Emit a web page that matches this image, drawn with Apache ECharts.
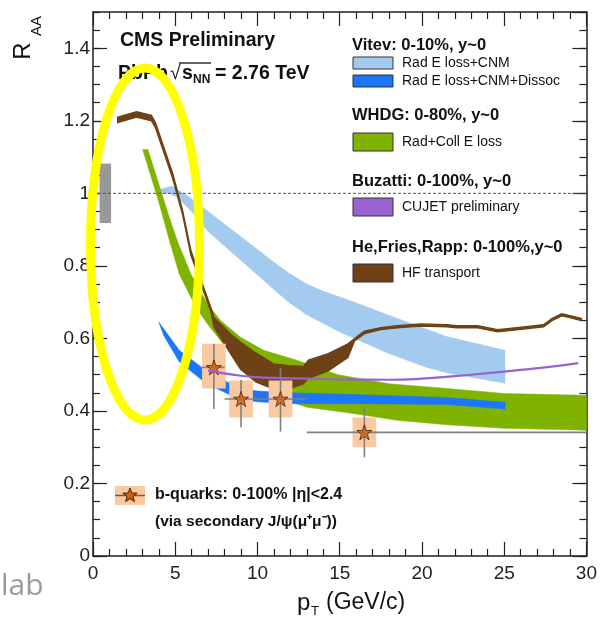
<!DOCTYPE html>
<html>
<head>
<meta charset="utf-8">
<script src="https://cdn.jsdelivr.net/npm/echarts@6.0.0/dist/echarts.min.js"></script>
<style>
html,body{margin:0;padding:0;background:#fff}
#main{width:600px;height:630px}
</style>
</head>
<body>
<div id="main"></div>
<script>
var chart = echarts.init(document.getElementById('main'));
var FONT = '"Liberation Sans", Arial, Helvetica, sans-serif';

// Vitev: Rad E loss+CNM (light blue band)
var vCnmHiX = [4.0, 4.8, 5.85, 7.0, 8.0, 9.0, 10.0, 11.0, 11.9, 13, 14, 15.9, 18.5, 21.5, 25.05];
var vCnmHiY = [1.01, 1.02, 0.99, 0.95, 0.915, 0.88, 0.845, 0.81, 0.78, 0.75, 0.73, 0.70, 0.655, 0.605, 0.567];
var vCnmLoX = [4.0, 4.6, 5.1, 6.0, 7.0, 8.0, 9.0, 10.0, 11.0, 11.9, 13, 14.9, 17.9, 20.3, 21.5, 25.05];
var vCnmLoY = [1.0, 1.0, 0.99, 0.95, 0.895, 0.855, 0.815, 0.775, 0.735, 0.70, 0.665, 0.62, 0.56, 0.52, 0.505, 0.476];

// Vitev: Rad E loss+CNM+Dissoc (blue band)
var vDisHiX = [4.0, 5.25, 6.9, 8.9, 10, 12, 16, 21.5, 25.05];
var vDisHiY = [0.645, 0.567, 0.51, 0.462, 0.455, 0.45, 0.445, 0.437, 0.424];
var vDisLoX = [4.3, 5.25, 6.9, 8.9, 10, 12, 16, 21.5, 25.05];
var vDisLoY = [0.608, 0.535, 0.475, 0.432, 0.425, 0.42, 0.42, 0.418, 0.405];

// WHDG: Rad+Coll E loss (green band)
var whdgHiX = [3.34, 4.0, 4.65, 5.15, 5.96, 6.96, 7.77, 8.97, 10.38, 12.4, 14.9, 18, 21.5, 25, 30];
var whdgHiY = [1.121, 1.026, 0.932, 0.866, 0.777, 0.695, 0.649, 0.603, 0.567, 0.54, 0.50, 0.475, 0.462, 0.448, 0.443];
var whdgLoX = [3.02, 4.0, 4.65, 5.25, 6.26, 6.96, 8, 9, 10, 11, 12, 13, 15.5, 18.5, 21.5, 25, 30];
var whdgLoY = [1.121, 0.976, 0.869, 0.777, 0.686, 0.64, 0.58, 0.53, 0.49, 0.455, 0.425, 0.41, 0.395, 0.374, 0.362, 0.352, 0.347];

// Buzatti: CUJET preliminary (purple line)
var cujetX = [7.0, 9, 11, 13, 15, 18, 20, 22, 24, 26, 28, 29.5];
var cujetY = [0.512, 0.497, 0.491, 0.489, 0.487, 0.486, 0.489, 0.496, 0.504, 0.513, 0.523, 0.532];

// He, Fries, Rapp: HF transport (brown band)
var hfX  = [1.5, 2.65, 3.55, 3.8, 4.25, 4.85, 5.45, 5.95, 6.6, 7.16, 7.36, 8.37, 8.97, 9.9, 10.98, 11.9, 12.8, 13.1, 14.3, 15.5, 15.9, 16.5, 17.5, 18.5, 19.9, 21.5, 22.1, 23.4, 24.6, 25.9, 27.4, 27.9, 28.5, 29.0, 29.7];
var hfHi = [1.21, 1.225, 1.215, 1.195, 1.135, 1.055, 0.952, 0.843, 0.757, 0.686, 0.658, 0.612, 0.59, 0.56, 0.53, 0.525, 0.523, 0.54, 0.558, 0.585, 0.60, 0.62, 0.63, 0.635, 0.64, 0.638, 0.635, 0.635, 0.624, 0.63, 0.638, 0.655, 0.668, 0.663, 0.655];
var hfLo = [1.195, 1.21, 1.20, 1.18, 1.12, 1.04, 0.94, 0.83, 0.745, 0.675, 0.631, 0.557, 0.515, 0.48, 0.46, 0.46, 0.475, 0.49, 0.51, 0.547, 0.593, 0.613, 0.624, 0.629, 0.634, 0.632, 0.629, 0.629, 0.618, 0.624, 0.632, 0.649, 0.662, 0.657, 0.649];

// b-quarks (CMS data)
var bX      = [7.35, 9.0, 11.4, 16.5];
var bY      = [0.52, 0.433, 0.433, 0.341];
var bStatLo = [0.405, 0.355, 0.343, 0.272];
var bStatHi = [0.585, 0.485, 0.518, 0.41];
var bSysLo  = [0.462, 0.382, 0.382, 0.300];
var bSysHi  = [0.585, 0.484, 0.484, 0.382];
var bBinLo  = [6.5, 8, 10, 13];
var bBinHi  = [8, 10, 13, 30];

// global uncertainty box at R_AA = 1
var globX = [0.4, 1.1];
var globY = [0.918, 1.082];

var unityX = [0, 30];
var unityY = [1, 1];

var STAR = 'path://M0,-10L2.35,-3.24L9.51,-3.09L3.8,1.24L5.88,8.09L0,4L-5.88,8.09L-3.8,1.24L-9.51,-3.09L-2.35,-3.24Z';

function band(hx, hy, lx, ly, color, lw) {
    return {
        type: 'custom', silent: true,
        data: [[hx[0], hy[0]]],
        renderItem: function (params, api) {
            var pts = [];
            for (var i = 0; i < hx.length; i++) pts.push(api.coord([hx[i], hy[i]]));
            for (var j = lx.length - 1; j >= 0; j--) pts.push(api.coord([lx[j], ly[j]]));
            return {
                type: 'polygon',
                shape: { points: pts },
                style: { fill: color, stroke: color, lineWidth: lw }
            };
        }
    };
}

function xAx(pos, labels) {
    return {
        type: 'value', position: pos, min: 0, max: 30, interval: 5,
        axisLine: { show: true, onZero: false, lineStyle: { color: '#222', width: 1.5 } },
        axisTick: { inside: true, length: 14, lineStyle: { color: '#222', width: 1.2 } },
        minorTick: { show: true, splitNumber: 5, length: 7, lineStyle: { color: '#222', width: 1.2 } },
        axisLabel: { show: labels, margin: 8, fontSize: 19, color: '#222', fontFamily: FONT },
        splitLine: { show: false }, minorSplitLine: { show: false }
    };
}
function yMajor(pos, labels) {
    return {
        type: 'value', position: pos, min: 0, max: 1.5, interval: 0.2,
        axisLine: { show: true, onZero: false, lineStyle: { color: '#222', width: 1.5 } },
        axisTick: { inside: true, length: 14, lineStyle: { color: '#222', width: 1.2 } },
        axisLabel: { show: labels, margin: 3, showMaxLabel: false, fontSize: 19, color: '#222', fontFamily: FONT },
        splitLine: { show: false }
    };
}
function yMinor(pos) {
    return {
        type: 'value', position: pos, min: 0, max: 1.5, interval: 0.05,
        axisLine: { show: false, onZero: false },
        axisTick: { inside: true, length: 7, lineStyle: { color: '#222', width: 1.2 } },
        axisLabel: { show: false },
        splitLine: { show: false }
    };
}

function txt(x, y, s, size, weight, extra) {
    var o = {
        type: 'text', x: x, y: y, z: 50,
        style: { text: s, fontSize: size, fontWeight: weight || 'normal', fontFamily: FONT,
                 fill: '#111', textVerticalAlign: 'middle', textAlign: 'left' }
    };
    if (extra) for (var k in extra) o[k] = extra[k];
    return o;
}
function box(x, y, w, h, color) {
    return { type: 'rect', z: 50, shape: { x: x, y: y, width: w, height: h },
             style: { fill: color, stroke: '#333', lineWidth: 1 } };
}
function starPts(cx, cy, r) {
    var p = [];
    for (var i = 0; i < 10; i++) {
        var a = -Math.PI / 2 + i * Math.PI / 5;
        var rr = i % 2 ? r * 0.42 : r;
        p.push([cx + rr * Math.cos(a), cy + rr * Math.sin(a)]);
    }
    return p;
}

var series = [
    band(vCnmHiX, vCnmHiY, vCnmLoX, vCnmLoY, '#a3cbef', 0.5),
    band(whdgHiX, whdgHiY, whdgLoX, whdgLoY, '#80b300', 0.5),
    band(vDisHiX, vDisHiY, vDisLoX, vDisLoY, '#1b76f8', 0.5),
    {
        type: 'line', silent: true, smooth: true, showSymbol: false,
        data: cujetX.map(function (x, i) { return [x, cujetY[i]]; }),
        lineStyle: { color: '#9a62d0', width: 2.2 }
    },
    band(hfX, hfHi, hfX, hfLo, '#6e4216', 1.3),
    {
        type: 'line', silent: true, showSymbol: false,
        data: unityX.map(function (x, i) { return [x, unityY[i]]; }),
        lineStyle: { color: '#555', width: 1, type: [3, 2] }
    },
    {
        type: 'custom', silent: true,
        data: [[globX[0], globY[0]]],
        renderItem: function (params, api) {
            var a = api.coord([globX[0], globY[1]]);
            var b = api.coord([globX[1], globY[0]]);
            return { type: 'rect', shape: { x: a[0], y: a[1], width: b[0] - a[0], height: b[1] - a[1] },
                     style: { fill: '#999' } };
        }
    },
    {
        type: 'custom', silent: true,
        data: bX.map(function (x, i) { return [x, bY[i], i]; }),
        renderItem: function (params, api) {
            var i = api.value(2), x = api.value(0);
            var a = api.coord([x - 0.72, bSysHi[i]]);
            var b = api.coord([x + 0.72, bSysLo[i]]);
            return { type: 'rect', shape: { x: a[0], y: a[1], width: b[0] - a[0], height: b[1] - a[1] },
                     style: { fill: '#f9c9a2' } };
        }
    },
    {
        type: 'custom', silent: true,
        data: bX.map(function (x, i) { return [x, bY[i], i]; }),
        renderItem: function (params, api) {
            var i = api.value(2), x = api.value(0), y = api.value(1);
            var t = api.coord([x, bStatHi[i]]), b = api.coord([x, bStatLo[i]]);
            var l = api.coord([bBinLo[i], y]), r = api.coord([bBinHi[i], y]);
            var st = { stroke: '#808080', lineWidth: 1.6 };
            return { type: 'group', children: [
                { type: 'line', shape: { x1: t[0], y1: t[1], x2: b[0], y2: b[1] }, style: st },
                { type: 'line', shape: { x1: l[0], y1: l[1], x2: r[0], y2: r[1] }, style: st }
            ] };
        }
    },
    {
        type: 'scatter', silent: true, symbol: STAR, symbolSize: 15,
        data: bX.map(function (x, i) { return [x, bY[i]]; }),
        itemStyle: { color: '#d2600e', borderColor: '#4a2000', borderWidth: 1 }
    }
];

var graphics = [
    // axis titles
    txt(23, 51, 'R', 24, 'normal', { rotation: Math.PI / 2, style: { text: 'R', fontSize: 24, fontFamily: FONT, fill: '#111', textAlign: 'center', textVerticalAlign: 'middle' } }),
    txt(37, 26, 'AA', 15, 'normal', { rotation: Math.PI / 2, style: { text: 'AA', fontSize: 15, fontFamily: FONT, fill: '#111', textAlign: 'center', textVerticalAlign: 'middle' } }),
    txt(297, 603, 'p', 24),
    txt(311, 611, 'T', 13),
    txt(326, 603, '(GeV/c)', 23),
    // CMS labels
    txt(120, 41, 'CMS Preliminary', 19.5, 'bold'),
    txt(118, 74, 'PbPb', 19.5, 'bold'),
    txt(170, 74, '\u221A', 19.5, 'normal'),
    { type: 'line', z: 50, shape: { x1: 179, y1: 63, x2: 211, y2: 63 }, style: { stroke: '#111', lineWidth: 1.3 } },
    txt(182, 74, 's', 19.5, 'bold'),
    txt(193, 80, 'NN', 12, 'bold'),
    txt(215, 74, '= 2.76 TeV', 19.5, 'bold'),
    // theory legend
    txt(352, 45, 'Vitev: 0-10%, y~0', 16.5, 'bold'),
    box(353, 57, 40, 12, '#a3cbef'),
    txt(402, 63, 'Rad E loss+CNM', 14),
    box(353, 75, 40, 12, '#1b76f8'),
    txt(402, 81, 'Rad E loss+CNM+Dissoc', 14),
    txt(352, 115, 'WHDG: 0-80%, y~0', 16.5, 'bold'),
    box(353, 133, 40, 18, '#80b300'),
    txt(402, 142, 'Rad+Coll E loss', 14),
    txt(352, 181, 'Buzatti: 0-100%, y~0', 16.5, 'bold'),
    box(353, 198, 40, 18, '#9a62d0'),
    txt(402, 207, 'CUJET preliminary', 14),
    txt(352, 247, 'He,Fries,Rapp: 0-100%,y~0', 16.5, 'bold'),
    box(353, 264, 40, 18, '#6e4216'),
    txt(402, 273, 'HF transport', 14),
    // data legend
    { type: 'rect', z: 50, shape: { x: 115, y: 486, width: 30, height: 19 }, style: { fill: '#f9c9a2' } },
    { type: 'line', z: 51, shape: { x1: 115, y1: 495.5, x2: 145, y2: 495.5 }, style: { stroke: '#7a5a40', lineWidth: 1.5 } },
    { type: 'polygon', z: 52, shape: { points: starPts(130, 495.5, 7.5) }, style: { fill: '#d2600e', stroke: '#4a2000', lineWidth: 1 } },
    txt(155, 495, 'b-quarks: 0-100% |\u03B7|<2.4', 16, 'bold'),
    txt(155, 522, '(via secondary J/\u03C8(\u03BC\u207A\u03BC\u207B))', 15.5, 'bold'),
    // stray watermark text and yellow highlight
    { type: 'text', x: 1, y: 586, z: 50, style: { text: 'lab', fontSize: 30, fontFamily: '"Open Sans", sans-serif', fill: '#9a9a9a', textVerticalAlign: 'middle' } },
    { type: 'ellipse', z: 100, shape: { cx: 145, cy: 244, rx: 54.5, ry: 176 }, style: { fill: 'none', stroke: '#ffff00', lineWidth: 9 } }
];

var option = {
    animation: false,
    backgroundColor: '#fff',
    grid: { left: 93, right: 11, top: 12, bottom: 74 },
    xAxis: [xAx('bottom', true), xAx('top', false)],
    yAxis: [yMajor('left', true), yMinor('left'), yMajor('right', false), yMinor('right')],
    series: series,
    graphic: graphics
};
chart.setOption(option);
</script>
</body>
</html>
